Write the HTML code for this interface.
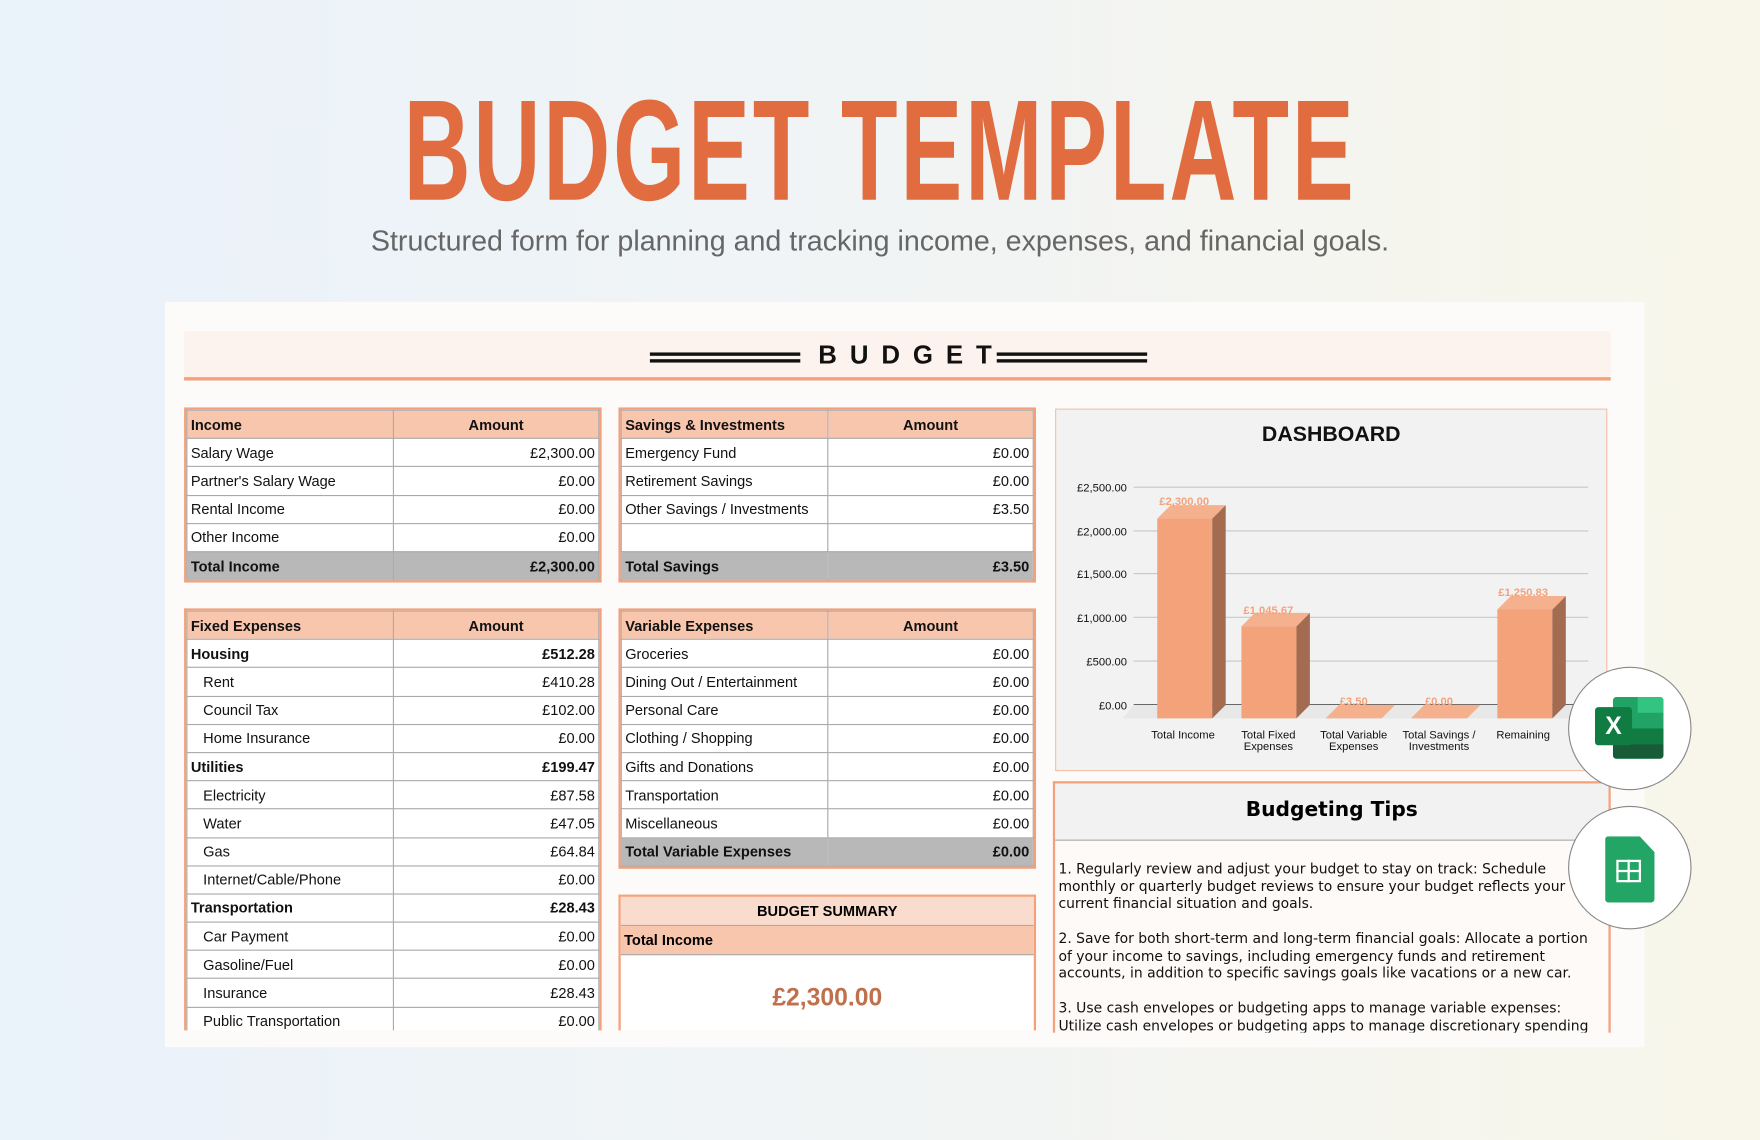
<!DOCTYPE html>
<html><head><meta charset="utf-8"><style>
html,body{margin:0;padding:0;width:1760px;height:1140px;overflow:hidden}
#w{position:absolute;left:0;top:0;width:1568px;height:1016px;transform:scale(1.12245);transform-origin:0 0;background:linear-gradient(90deg,#eaf2fa 0%,#f1f4f5 50%,#f8f6ea 100%);font-family:"Liberation Sans",Arial,sans-serif;overflow:hidden}
.a{position:absolute}
#title{left:0;width:1568px;top:70px;text-align:center;color:#e06c40;font-weight:bold;font-size:128px;line-height:130px;white-space:nowrap}
#title span{display:inline-block;transform:scaleX(0.645);letter-spacing:4px}
#sub{left:0;width:1568px;top:201px;text-align:center;color:#666;font-size:25.5px;white-space:nowrap}
#card{left:147px;top:269px;width:1318px;height:664px;background:#fdfbf9}
#band{left:164px;top:295px;width:1271px;height:41px;background:#fdf3ee;border-bottom:3px solid #f4a07a}
table{border-collapse:collapse;table-layout:fixed;font-size:13px;color:#111}
td{height:24.2px;padding:0 3px;border:1px solid #aaa;white-space:nowrap;overflow:hidden;background:#fff}
td.r{text-align:right}
tr.h td{background:#f8c6ad;font-weight:bold}
tr.h td.c{text-align:center}
tr.t td{background:#b8b8b8;font-weight:bold}
.tb{border:2px solid #f4a07a}
.b td{font-weight:bold}
td.i{padding-left:14px}
.tips{font-family:"DejaVu Sans",sans-serif;font-size:12.4px;line-height:15.5px;color:#111;white-space:nowrap}
</style></head><body><div id="w">
<div class="a" id="title"><span>BUDGET TEMPLATE</span></div>
<div class="a" id="sub">Structured form for planning and tracking income, expenses, and financial goals.</div>
<div class="a" id="card"></div>
<div class="a" id="band"></div>
<div class="a" style="left:579px;top:314px;width:134px;height:3px;background:#111"></div>
<div class="a" style="left:579px;top:320px;width:134px;height:3px;background:#111"></div>
<div class="a" style="left:888px;top:314px;width:134px;height:3px;background:#111"></div>
<div class="a" style="left:888px;top:320px;width:134px;height:3px;background:#111"></div>
<div class="a" style="left:729px;top:303px;white-space:nowrap;font-weight:bold;font-size:23px;letter-spacing:11.5px;color:#111">BUDGET</div>

<div class="a tb" style="left:164px;top:363px;width:368px">
<table style="width:368px"><col style="width:184px"><col>
<tr class="h"><td>Income</td><td class="c">Amount</td></tr>
<tr><td>Salary Wage</td><td class="r">£2,300.00</td></tr>
<tr><td>Partner's Salary Wage</td><td class="r">£0.00</td></tr>
<tr><td>Rental Income</td><td class="r">£0.00</td></tr>
<tr><td>Other Income</td><td class="r">£0.00</td></tr>
<tr class="t"><td>Total Income</td><td class="r">£2,300.00</td></tr></table></div>

<div class="a tb" style="left:551px;top:363px;width:368px">
<table style="width:368px"><col style="width:184px"><col>
<tr class="h"><td>Savings &amp; Investments</td><td class="c">Amount</td></tr>
<tr><td>Emergency Fund</td><td class="r">£0.00</td></tr>
<tr><td>Retirement Savings</td><td class="r">£0.00</td></tr>
<tr><td>Other Savings / Investments</td><td class="r">£3.50</td></tr>
<tr><td></td><td></td></tr>
<tr class="t"><td>Total Savings</td><td class="r">£3.50</td></tr></table></div>

<div class="a tb" style="left:164px;top:542px;width:368px;height:374px;overflow:hidden;border-bottom:none">
<table style="width:368px"><col style="width:184px"><col>
<tr class="h"><td>Fixed Expenses</td><td class="c">Amount</td></tr>
<tr class="b"><td>Housing</td><td class="r">£512.28</td></tr>
<tr><td class="i">Rent</td><td class="r">£410.28</td></tr>
<tr><td class="i">Council Tax</td><td class="r">£102.00</td></tr>
<tr><td class="i">Home Insurance</td><td class="r">£0.00</td></tr>
<tr class="b"><td>Utilities</td><td class="r">£199.47</td></tr>
<tr><td class="i">Electricity</td><td class="r">£87.58</td></tr>
<tr><td class="i">Water</td><td class="r">£47.05</td></tr>
<tr><td class="i">Gas</td><td class="r">£64.84</td></tr>
<tr><td class="i">Internet/Cable/Phone</td><td class="r">£0.00</td></tr>
<tr class="b"><td>Transportation</td><td class="r">£28.43</td></tr>
<tr><td class="i">Car Payment</td><td class="r">£0.00</td></tr>
<tr><td class="i">Gasoline/Fuel</td><td class="r">£0.00</td></tr>
<tr><td class="i">Insurance</td><td class="r">£28.43</td></tr>
<tr><td class="i">Public Transportation</td><td class="r">£0.00</td></tr></table></div>

<div class="a tb" style="left:551px;top:542px;width:368px">
<table style="width:368px"><col style="width:184px"><col>
<tr class="h"><td>Variable Expenses</td><td class="c">Amount</td></tr>
<tr><td>Groceries</td><td class="r">£0.00</td></tr>
<tr><td>Dining Out / Entertainment</td><td class="r">£0.00</td></tr>
<tr><td>Personal Care</td><td class="r">£0.00</td></tr>
<tr><td>Clothing / Shopping</td><td class="r">£0.00</td></tr>
<tr><td>Gifts and Donations</td><td class="r">£0.00</td></tr>
<tr><td>Transportation</td><td class="r">£0.00</td></tr>
<tr><td>Miscellaneous</td><td class="r">£0.00</td></tr>
<tr class="t"><td>Total Variable Expenses</td><td class="r">£0.00</td></tr></table></div>

<div class="a tb" style="left:551px;top:797px;width:368px;height:119px;overflow:hidden;border-bottom:none;background:#fff">
<div style="height:25px;background:#f9dccd;text-align:center;font-weight:bold;font-size:13px;line-height:25px;border-bottom:1px solid #aaa">BUDGET SUMMARY</div>
<div style="height:25px;background:#f8c6ad;font-weight:bold;font-size:13px;line-height:25px;padding-left:3px;border-bottom:1px solid #aaa">Total Income</div>
<div style="text-align:center;font-weight:bold;font-size:22px;color:#c0704c;margin-top:25px">£2,300.00</div></div>

<div class="a" style="left:940px;top:364px;width:490px;height:321px;background:#f2f2f2;border:1px solid #f5c0a8"></div>
<div class="a" style="left:940px;top:377px;width:492px;text-align:center;font-weight:bold;font-size:19px;color:#111">DASHBOARD</div>
<svg class="a" style="left:940px;top:364px" width="492" height="322" viewBox="940 364 492 322" font-family="Liberation Sans, Arial, sans-serif">
<g stroke="#c8c8c8" stroke-width="1">
<line x1="1010" y1="434" x2="1415" y2="434"/><line x1="1010" y1="473" x2="1415" y2="473"/><line x1="1010" y1="511" x2="1415" y2="511"/><line x1="1010" y1="550" x2="1415" y2="550"/><line x1="1010" y1="589" x2="1415" y2="589"/></g>
<line x1="1010" y1="628" x2="1415" y2="628" stroke="#555" stroke-width="1.5"/>
<polygon points="1010,628 1415,628 1403,640 1000,640" fill="#e8e8e8"/>
<g font-size="10" fill="#111" text-anchor="end">
<text x="1004" y="438">£2,500.00</text><text x="1004" y="477">£2,000.00</text><text x="1004" y="515">£1,500.00</text><text x="1004" y="554">£1,000.00</text><text x="1004" y="593">£500.00</text><text x="1004" y="632">£0.00</text></g>
<g>
<rect x="1031" y="462" width="49" height="178" fill="#f4a27a"/><polygon points="1080,462 1092,450 1092,628 1080,640" fill="#a36b50"/><polygon points="1031,462 1043,450 1092,450 1080,462" fill="#f5b08e"/>
<rect x="1106" y="558" width="49" height="82" fill="#f4a27a"/><polygon points="1155,558 1167,546 1167,628 1155,640" fill="#a36b50"/><polygon points="1106,558 1118,546 1167,546 1155,558" fill="#f5b08e"/>
<polygon points="1181,640 1193,628 1243,628 1231,640" fill="#f5b08e"/>
<polygon points="1257,640 1269,628 1319,628 1307,640" fill="#f5b08e"/>
<rect x="1334" y="543" width="49" height="97" fill="#f4a27a"/><polygon points="1383,543 1395,531 1395,628 1383,640" fill="#a36b50"/><polygon points="1334,543 1346,531 1395,531 1383,543" fill="#f5b08e"/>
</g>
<g font-size="10" fill="#f4a27a" text-anchor="middle" font-weight="bold">
<text x="1055" y="450">£2,300.00</text><text x="1130" y="547">£1,045.67</text><text x="1206" y="628">£3.50</text><text x="1282" y="628">£0.00</text><text x="1357" y="531">£1,250.83</text></g>
<g font-size="10" fill="#111" text-anchor="middle">
<text x="1054" y="658">Total Income</text>
<text x="1130" y="658">Total Fixed</text><text x="1130" y="668">Expenses</text>
<text x="1206" y="658">Total Variable</text><text x="1206" y="668">Expenses</text>
<text x="1282" y="658">Total Savings /</text><text x="1282" y="668">Investments</text>
<text x="1357" y="658">Remaining</text></g>
</svg>

<div class="a" style="left:938px;top:696px;width:493px;height:222px;border:2px solid #f4a07a;border-bottom:none;background:#fdfaf8;overflow:hidden">
<div style="height:50px;background:#f2f2f2;border-bottom:1px solid #aaa;text-align:center;font-family:'DejaVu Sans',sans-serif;font-weight:bold;font-size:18px;line-height:48px">Budgeting Tips</div>
<div class="tips" style="padding:17px 0 0 3px">1. Regularly review and adjust your budget to stay on track: Schedule<br>monthly or quarterly budget reviews to ensure your budget reflects your<br>current financial situation and goals.<br><br>2. Save for both short-term and long-term financial goals: Allocate a portion<br>of your income to savings, including emergency funds and retirement<br>accounts, in addition to specific savings goals like vacations or a new car.<br><br>3. Use cash envelopes or budgeting apps to manage variable expenses:<br>Utilize cash envelopes or budgeting apps to manage discretionary spending</div></div>

<div class="a" style="left:1397px;top:594px;width:108px;height:108px;border-radius:50%;background:#fff;border:1px solid #888"></div>
<div class="a" style="left:1437px;top:621px;width:45px;height:55px;background:#21a366;border-radius:3px;overflow:hidden"><div style="position:absolute;left:22px;top:0;width:23px;height:14px;background:#33c481"></div><div style="position:absolute;left:0;top:28px;width:45px;height:14px;background:#107c41"></div><div style="position:absolute;left:0;top:42px;width:45px;height:13px;background:#185c37"></div></div>
<div class="a" style="left:1421px;top:630px;width:33px;height:34px;background:#107c41;border-radius:3px;color:#fff;font-weight:bold;font-size:22px;text-align:center;line-height:34px">X</div>
<div class="a" style="left:1397px;top:718px;width:108px;height:108px;border-radius:50%;background:#fff;border:1px solid #888"></div>
<div class="a" style="left:1430px;top:745px;width:44px;height:59px;background:#23a566;border-radius:3px;clip-path:polygon(0 0,70% 0,100% 24%,100% 100%,0 100%)"></div>
<div class="a" style="left:1440px;top:766px;width:22px;height:20px;border:2px solid #fff;box-sizing:border-box"></div>
<div class="a" style="left:1440px;top:775px;width:22px;height:2px;background:#fff"></div>
<div class="a" style="left:1450px;top:766px;width:2px;height:20px;background:#fff"></div>
</div></body></html>
